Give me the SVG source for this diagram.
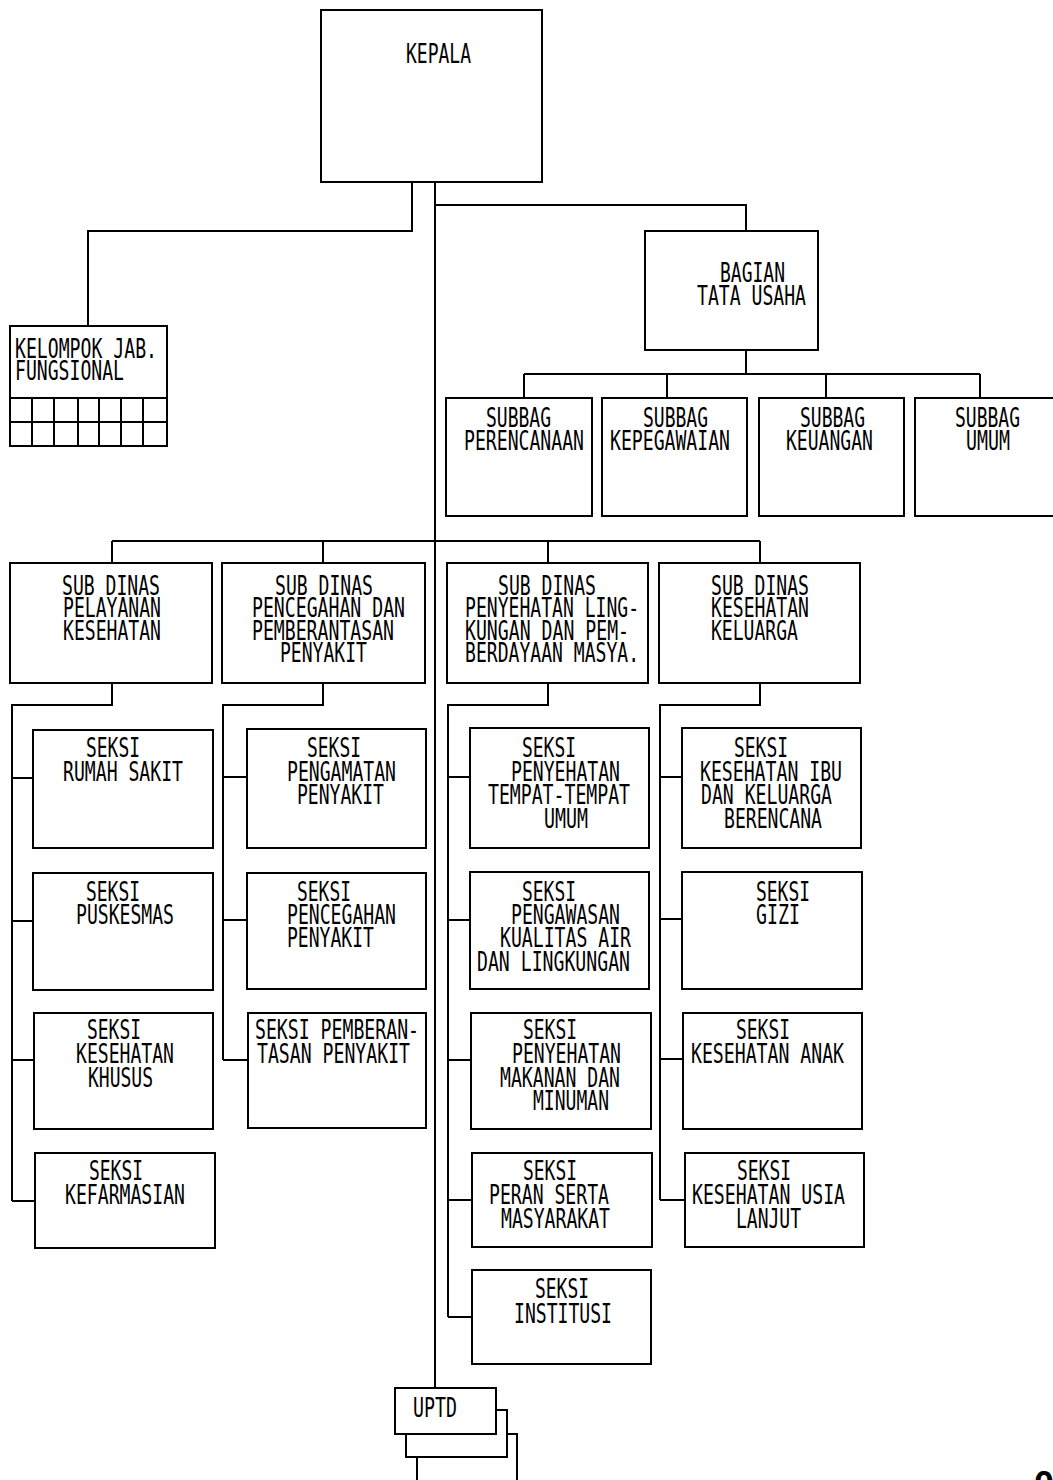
<svg xmlns="http://www.w3.org/2000/svg" width="1053" height="1480" viewBox="0 0 1053 1480">
<style>
.bg{fill:#ffffff}
.box{fill:#ffffff;stroke:#000000;stroke-width:2}
.ln{fill:none;stroke:#000000;stroke-width:2}
text{font-family:"DejaVu Sans Mono","Liberation Mono",monospace;font-size:26px;fill:#000000}
.big{font-family:"Liberation Sans",Arial,sans-serif;font-size:36px;font-weight:bold}
</style>
<rect class="bg" x="0" y="0" width="1053" height="1480"/>
<g id="connectors">
<path class="ln" d="M412,182 V231 H88 V326"/>
<path class="ln" d="M435,182 V1388"/>
<path class="ln" d="M435,205 H746 V231"/>
<path class="ln" d="M746,350 V374 M524,374 H980 M524,374 V398 M667,374 V398 M826,374 V398 M980,374 V398"/>
<path class="ln" d="M112,541 H760 M112,541 V563 M323,541 V563 M548,541 V563 M760,541 V563"/>
<path class="ln" d="M112,683 V705 H12 V1201 M12,778 H33 M12,921 H33 M12,1060 H34 M12,1201 H35"/>
<path class="ln" d="M323,683 V705 H223 V1060 M223,777 H247 M223,920 H247 M223,1060 H248"/>
<path class="ln" d="M548,683 V705 H448 V1317 M448,777 H470 M448,920 H470 M448,1060 H471 M448,1200 H472 M448,1317 H472"/>
<path class="ln" d="M760,683 V705 H660 V1200 M660,777 H682 M660,919 H682 M660,1059 H683 M660,1200 H685"/>
</g>
<g id="kepala"><rect class="box" x="321" y="10" width="221" height="172"/><text x="406" y="63" textLength="65" lengthAdjust="spacingAndGlyphs">KEPALA</text></g>
<g id="kelompok"><rect class="box" x="10" y="326" width="157" height="120"/>
<path class="ln" d="M10,398 H167 M10,422 H167 M32,398 V446 M54,398 V446 M78,398 V446 M99,398 V446 M121,398 V446 M143,398 V446"/>
<text x="15" y="358" textLength="142" lengthAdjust="spacingAndGlyphs">KELOMPOK JAB.</text><text x="15" y="380" textLength="109" lengthAdjust="spacingAndGlyphs">FUNGSIONAL</text></g>
<g id="bagian"><rect class="box" x="645" y="231" width="173" height="119"/><text x="720" y="282" textLength="65" lengthAdjust="spacingAndGlyphs">BAGIAN</text><text x="697" y="305" textLength="109" lengthAdjust="spacingAndGlyphs">TATA USAHA</text></g>
<g id="subbag-perencanaan"><rect class="box" x="446" y="398" width="146" height="118"/><text x="486" y="427" textLength="65" lengthAdjust="spacingAndGlyphs">SUBBAG</text><text x="464" y="450" textLength="120" lengthAdjust="spacingAndGlyphs">PERENCANAAN</text></g>
<g id="subbag-kepegawaian"><rect class="box" x="602" y="398" width="145" height="118"/><text x="643" y="427" textLength="65" lengthAdjust="spacingAndGlyphs">SUBBAG</text><text x="610" y="450" textLength="120" lengthAdjust="spacingAndGlyphs">KEPEGAWAIAN</text></g>
<g id="subbag-keuangan"><rect class="box" x="759" y="398" width="145" height="118"/><text x="800" y="427" textLength="65" lengthAdjust="spacingAndGlyphs">SUBBAG</text><text x="786" y="450" textLength="87" lengthAdjust="spacingAndGlyphs">KEUANGAN</text></g>
<g id="subbag-umum"><rect class="box" x="915" y="398" width="150" height="118"/><text x="955" y="427" textLength="65" lengthAdjust="spacingAndGlyphs">SUBBAG</text><text x="966" y="450" textLength="44" lengthAdjust="spacingAndGlyphs">UMUM</text></g>
<g id="subdinas-pelayanan"><rect class="box" x="10" y="563" width="202" height="120"/><text x="62" y="595" textLength="98" lengthAdjust="spacingAndGlyphs">SUB DINAS</text><text x="63" y="617" textLength="98" lengthAdjust="spacingAndGlyphs">PELAYANAN</text><text x="63" y="640" textLength="98" lengthAdjust="spacingAndGlyphs">KESEHATAN</text></g>
<g id="subdinas-pencegahan"><rect class="box" x="222" y="563" width="203" height="120"/><text x="275" y="595" textLength="98" lengthAdjust="spacingAndGlyphs">SUB DINAS</text><text x="252" y="617" textLength="153" lengthAdjust="spacingAndGlyphs">PENCEGAHAN DAN</text><text x="252" y="640" textLength="142" lengthAdjust="spacingAndGlyphs">PEMBERANTASAN</text><text x="280" y="662" textLength="87" lengthAdjust="spacingAndGlyphs">PENYAKIT</text></g>
<g id="subdinas-lingkungan"><rect class="box" x="447" y="563" width="201" height="120"/><text x="498" y="595" textLength="98" lengthAdjust="spacingAndGlyphs">SUB DINAS</text><text x="465" y="617" textLength="174" lengthAdjust="spacingAndGlyphs">PENYEHATAN LING-</text><text x="465" y="640" textLength="164" lengthAdjust="spacingAndGlyphs">KUNGAN DAN PEM-</text><text x="465" y="662" textLength="174" lengthAdjust="spacingAndGlyphs">BERDAYAAN MASYA.</text></g>
<g id="subdinas-keluarga"><rect class="box" x="659" y="563" width="201" height="120"/><text x="711" y="595" textLength="98" lengthAdjust="spacingAndGlyphs">SUB DINAS</text><text x="711" y="617" textLength="98" lengthAdjust="spacingAndGlyphs">KESEHATAN</text><text x="711" y="640" textLength="87" lengthAdjust="spacingAndGlyphs">KELUARGA</text></g>
<g id="seksi-rumah-sakit"><rect class="box" x="33" y="730" width="180" height="118"/><text x="86" y="757" textLength="54" lengthAdjust="spacingAndGlyphs">SEKSI</text><text x="63" y="781" textLength="120" lengthAdjust="spacingAndGlyphs">RUMAH SAKIT</text></g>
<g id="seksi-puskesmas"><rect class="box" x="33" y="873" width="180" height="117"/><text x="86" y="901" textLength="54" lengthAdjust="spacingAndGlyphs">SEKSI</text><text x="76" y="924" textLength="98" lengthAdjust="spacingAndGlyphs">PUSKESMAS</text></g>
<g id="seksi-kesehatan-khusus"><rect class="box" x="34" y="1013" width="179" height="116"/><text x="87" y="1039" textLength="54" lengthAdjust="spacingAndGlyphs">SEKSI</text><text x="76" y="1063" textLength="98" lengthAdjust="spacingAndGlyphs">KESEHATAN</text><text x="88" y="1087" textLength="65" lengthAdjust="spacingAndGlyphs">KHUSUS</text></g>
<g id="seksi-kefarmasian"><rect class="box" x="35" y="1153" width="180" height="95"/><text x="89" y="1180" textLength="54" lengthAdjust="spacingAndGlyphs">SEKSI</text><text x="65" y="1204" textLength="120" lengthAdjust="spacingAndGlyphs">KEFARMASIAN</text></g>
<g id="seksi-pengamatan"><rect class="box" x="247" y="729" width="179" height="119"/><text x="307" y="757" textLength="54" lengthAdjust="spacingAndGlyphs">SEKSI</text><text x="287" y="781" textLength="109" lengthAdjust="spacingAndGlyphs">PENGAMATAN</text><text x="297" y="804" textLength="87" lengthAdjust="spacingAndGlyphs">PENYAKIT</text></g>
<g id="seksi-pencegahan"><rect class="box" x="247" y="873" width="179" height="116"/><text x="297" y="901" textLength="54" lengthAdjust="spacingAndGlyphs">SEKSI</text><text x="287" y="924" textLength="109" lengthAdjust="spacingAndGlyphs">PENCEGAHAN</text><text x="287" y="947" textLength="87" lengthAdjust="spacingAndGlyphs">PENYAKIT</text></g>
<g id="seksi-pemberantasan"><rect class="box" x="248" y="1013" width="178" height="115"/><text x="255" y="1039" textLength="164" lengthAdjust="spacingAndGlyphs">SEKSI PEMBERAN-</text><text x="257" y="1063" textLength="153" lengthAdjust="spacingAndGlyphs">TASAN PENYAKIT</text></g>
<g id="seksi-tempat-umum"><rect class="box" x="470" y="728" width="179" height="120"/><text x="522" y="757" textLength="54" lengthAdjust="spacingAndGlyphs">SEKSI</text><text x="511" y="781" textLength="109" lengthAdjust="spacingAndGlyphs">PENYEHATAN</text><text x="488" y="804" textLength="142" lengthAdjust="spacingAndGlyphs">TEMPAT-TEMPAT</text><text x="544" y="828" textLength="44" lengthAdjust="spacingAndGlyphs">UMUM</text></g>
<g id="seksi-pengawasan"><rect class="box" x="470" y="872" width="179" height="117"/><text x="522" y="901" textLength="54" lengthAdjust="spacingAndGlyphs">SEKSI</text><text x="511" y="924" textLength="109" lengthAdjust="spacingAndGlyphs">PENGAWASAN</text><text x="500" y="947" textLength="131" lengthAdjust="spacingAndGlyphs">KUALITAS AIR</text><text x="477" y="971" textLength="153" lengthAdjust="spacingAndGlyphs">DAN LINGKUNGAN</text></g>
<g id="seksi-makanan"><rect class="box" x="471" y="1013" width="180" height="116"/><text x="523" y="1039" textLength="54" lengthAdjust="spacingAndGlyphs">SEKSI</text><text x="512" y="1063" textLength="109" lengthAdjust="spacingAndGlyphs">PENYEHATAN</text><text x="500" y="1087" textLength="120" lengthAdjust="spacingAndGlyphs">MAKANAN DAN</text><text x="533" y="1110" textLength="76" lengthAdjust="spacingAndGlyphs">MINUMAN</text></g>
<g id="seksi-peran-serta"><rect class="box" x="472" y="1153" width="180" height="94"/><text x="523" y="1180" textLength="54" lengthAdjust="spacingAndGlyphs">SEKSI</text><text x="489" y="1204" textLength="120" lengthAdjust="spacingAndGlyphs">PERAN SERTA</text><text x="501" y="1228" textLength="109" lengthAdjust="spacingAndGlyphs">MASYARAKAT</text></g>
<g id="seksi-institusi"><rect class="box" x="472" y="1270" width="179" height="94"/><text x="535" y="1298" textLength="54" lengthAdjust="spacingAndGlyphs">SEKSI</text><text x="514" y="1323" textLength="98" lengthAdjust="spacingAndGlyphs">INSTITUSI</text></g>
<g id="seksi-kia-kb"><rect class="box" x="682" y="728" width="179" height="120"/><text x="734" y="757" textLength="54" lengthAdjust="spacingAndGlyphs">SEKSI</text><text x="700" y="781" textLength="142" lengthAdjust="spacingAndGlyphs">KESEHATAN IBU</text><text x="701" y="804" textLength="131" lengthAdjust="spacingAndGlyphs">DAN KELUARGA</text><text x="724" y="828" textLength="98" lengthAdjust="spacingAndGlyphs">BERENCANA</text></g>
<g id="seksi-gizi"><rect class="box" x="682" y="872" width="180" height="117"/><text x="756" y="901" textLength="54" lengthAdjust="spacingAndGlyphs">SEKSI</text><text x="756" y="924" textLength="44" lengthAdjust="spacingAndGlyphs">GIZI</text></g>
<g id="seksi-anak"><rect class="box" x="683" y="1013" width="179" height="116"/><text x="736" y="1039" textLength="54" lengthAdjust="spacingAndGlyphs">SEKSI</text><text x="691" y="1063" textLength="153" lengthAdjust="spacingAndGlyphs">KESEHATAN ANAK</text></g>
<g id="seksi-usia-lanjut"><rect class="box" x="685" y="1153" width="179" height="94"/><text x="737" y="1180" textLength="54" lengthAdjust="spacingAndGlyphs">SEKSI</text><text x="692" y="1204" textLength="153" lengthAdjust="spacingAndGlyphs">KESEHATAN USIA</text><text x="736" y="1228" textLength="65" lengthAdjust="spacingAndGlyphs">LANJUT</text></g>
<g id="uptd">
<path class="ln" d="M507,1434 H517 V1480 M417,1457 V1480"/>
<path class="ln" d="M496,1410 H507 V1457 H406 V1434"/>
<rect class="box" x="395" y="1388" width="101" height="46"/><text x="413" y="1417" textLength="44" lengthAdjust="spacingAndGlyphs">UPTD</text></g>
<text class="big" x="1034" y="1497">0</text>
</svg>
